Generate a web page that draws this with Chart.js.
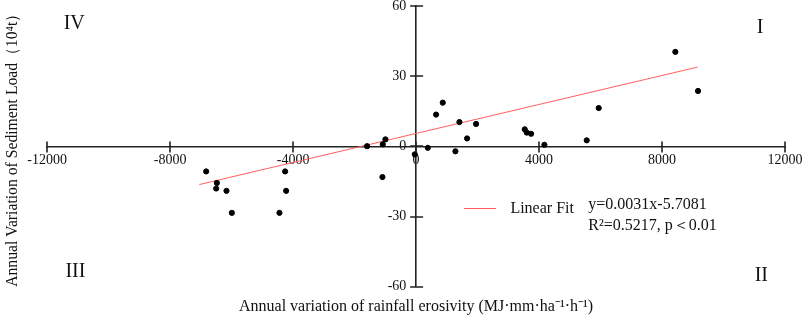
<!DOCTYPE html>
<html><head><meta charset="utf-8">
<script src="https://cdn.jsdelivr.net/npm/chart.js@4/dist/chart.umd.min.js"></script>
<style>html,body{margin:0;padding:0;background:#fff}#wrap{width:803px;height:324px;position:relative}</style>
</head><body><div id="wrap"><canvas id="c"></canvas></div>
<script>
// Scatter data (rainfall erosivity change vs sediment load change)
const xValues = [-6829,-6504,-6481,-6168,-5994,-4445,-4260,-4228,-1594,-1095,-1084,-998,-43,380,650,867,1279,1409,1659,1951,3534,3600,3740,4173,5550,5941,8433,9171];
const yValues = [-10.7,-18.0,-15.6,-19.0,-28.4,-28.4,-10.7,-19.0,0.1,-13.1,0.9,3.0,-3.4,-0.6,13.6,18.7,-2.1,10.4,3.4,9.6,7.3,5.9,5.4,0.7,2.6,16.4,40.4,23.7];
// Linear fit line as drawn (end points)
const fitX = [-7050, 9160];
const fitY = [-16.3, 33.9];
// Ticks
const xTicks = [-12000,-8000,-4000,0,4000,8000,12000];
const yTicks = [-60,-30,0,30,60];
const quadrantLabels = ['I','II','III','IV'];
const legendLabel = 'Linear Fit';
const equationLines = ['y=0.0031x-5.7081','R\u00B2=0.5217, p\uFF1C0.01'];
const xTitle = 'Annual variation of rainfall erosivity (MJ\u00B7mm\u00B7ha\u207B\u00B9\u00B7h\u207B\u00B9)';
const yTitle = 'Annual Variation of Sediment Load\uFF0810\u2074t\uFF09';

const FONT = '"Liberation Serif", "Times New Roman", serif';
const TXT = '#111';
const RED = 'rgb(255,95,95)';

const scatterPts = xValues.map((x,i)=>({x, y:yValues[i]}));
const fitPts = fitX.map((x,i)=>({x, y:fitY[i]}));

const decor = {
  id:'decor',
  afterDraw(chart){
    const ctx = chart.ctx, xs = chart.scales.x, ys = chart.scales.y;
    const ax = xs.getPixelForValue(0), ay = ys.getPixelForValue(0);
    ctx.save();
    ctx.strokeStyle = '#222'; ctx.lineWidth = 1.6;
    ctx.beginPath();
    xTicks.forEach(v=>{ const p = Math.round(xs.getPixelForValue(v)); ctx.moveTo(p, ay-5); ctx.lineTo(p, ay+6); });
    yTicks.forEach(v=>{ const p = Math.round(ys.getPixelForValue(v)); ctx.moveTo(ax-6, p); ctx.lineTo(ax+7, p); });
    ctx.stroke();
    // quadrant labels
    ctx.fillStyle = TXT; ctx.font = '20px ' + FONT; ctx.textAlign='center'; ctx.textBaseline='alphabetic';
    const qpos = [[11193,48.3],[11229,-57.4],[-11083,-56.0],[-11122,50.0]];
    quadrantLabels.forEach((t,i)=>ctx.fillText(t, xs.getPixelForValue(qpos[i][0]), ys.getPixelForValue(qpos[i][1])));
    // legend
    ctx.strokeStyle = RED; ctx.lineWidth = 1;
    const ly = Math.round(ys.getPixelForValue(-26.3))+0.5;
    ctx.beginPath(); ctx.moveTo(xs.getPixelForValue(1561), ly); ctx.lineTo(xs.getPixelForValue(2602), ly); ctx.stroke();
    ctx.font = '16px ' + FONT; ctx.textAlign='left';
    ctx.fillText(legendLabel, xs.getPixelForValue(3067), ys.getPixelForValue(-28.6));
    ctx.fillText(equationLines[0], xs.getPixelForValue(5603), ys.getPixelForValue(-26.6));
    ctx.fillText(equationLines[1], xs.getPixelForValue(5603), ys.getPixelForValue(-35.6));
    ctx.restore();
  }
};

new Chart(document.getElementById('c'), {
  type:'scatter',
  data:{ datasets:[
    { label:'Data', data:scatterPts, backgroundColor:'#000', borderColor:'#000', pointRadius:2.6, pointHoverRadius:2.6, order:1 },
    { type:'line', label:legendLabel, data:fitPts, borderColor:RED, borderWidth:1, pointRadius:0, fill:false, order:2 }
  ]},
  options:{
    responsive:true, maintainAspectRatio:false, animation:false,
    layout:{ padding:{ left:0, right:18, top:6, bottom:0 } },
    plugins:{
      legend:{ display:false }, tooltip:{ enabled:false },
      title:{ display:true, text:xTitle, position:'bottom', fullSize:false, color:TXT,
        font:{ family:FONT, size:16, weight:'normal', lineHeight:1.2 }, padding:{ top:10, bottom:8 } },
      subtitle:{ display:true, text:yTitle, position:'left', fullSize:false, color:TXT,
        font:{ family:FONT, size:16, weight:'normal', lineHeight:1.2 }, padding:{ top:3, bottom:25 } }
    },
    scales:{
      x:{ type:'linear', position:{ y:0 }, min:-12000, max:12000,
        afterBuildTicks:(s)=>{ s.ticks = xTicks.map(v=>({value:v})); },
        ticks:{ color:TXT, font:{ family:FONT, size:14, lineHeight:1 }, padding:0, maxRotation:0, callback:(v)=>String(v) },
        grid:{ display:true, drawOnChartArea:false, drawTicks:true, tickLength:7, tickColor:'rgba(0,0,0,0)' },
        border:{ display:true, color:'#222', width:1.6 } },
      y:{ type:'linear', position:{ x:0 }, min:-60, max:60,
        afterBuildTicks:(s)=>{ s.ticks = yTicks.map(v=>({value:v})); },
        ticks:{ color:TXT, font:{ family:FONT, size:14, lineHeight:0.8 }, padding:0, callback:(v)=>String(v) + '\u2002\u2009' },
        grid:{ display:true, drawOnChartArea:false, drawTicks:false },
        border:{ display:true, color:'#222', width:1.6 } }
    }
  },
  plugins:[decor]
});
</script></body></html>
